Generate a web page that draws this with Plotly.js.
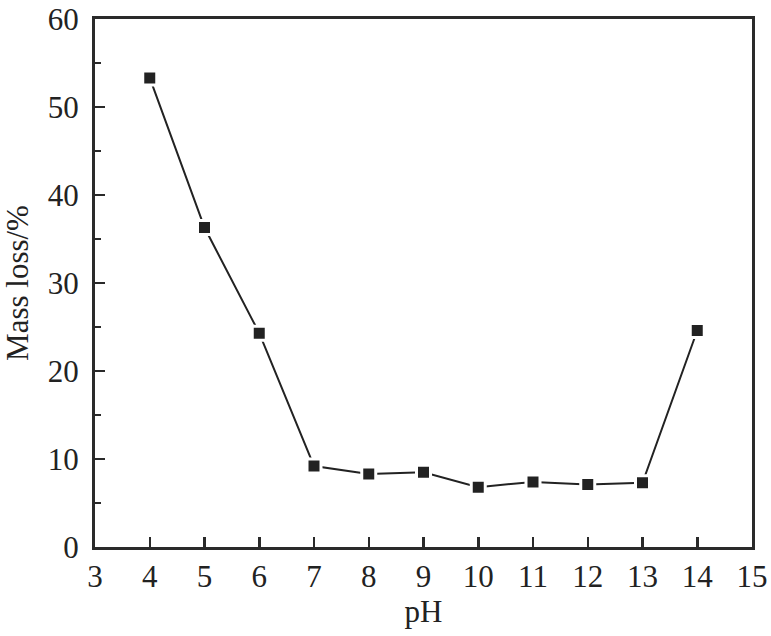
<!DOCTYPE html>
<html><head><meta charset="utf-8">
<script src="https://cdn.plot.ly/plotly-3.0.1.min.js"></script>
<style>body{margin:0;background:#fff}#chart{width:771px;height:636px}</style>
</head><body><div id="chart"></div>
<script>
const pH = [4, 5, 6, 7, 8, 9, 10, 11, 12, 13, 14];
const massLoss = [53.3, 36.3, 24.3, 9.2, 8.3, 8.5, 6.8, 7.4, 7.1, 7.3, 24.6];
const xTicks = [3, 4, 5, 6, 7, 8, 9, 10, 11, 12, 13, 14, 15];
const yTicks = [0, 10, 20, 30, 40, 50, 60];

const tickFont = {family: 'Liberation Serif, Times New Roman, serif', size: 31, color: '#222'};
const titleFont = {family: 'Liberation Serif, Times New Roman, serif', size: 31, color: '#222'};
const trace = {
  x: pH, y: massLoss, type: 'scatter', mode: 'lines+markers',
  line: {color: '#222', width: 2},
  marker: {symbol: 'square', size: 14, color: '#222', line: {color: '#fff', width: 3}},
  cliponaxis: false
};
const axisCommon = {
  showgrid: false, zeroline: false, showline: true, mirror: true,
  linecolor: '#2a2a2a', linewidth: 3, ticks: 'inside', ticklen: 10,
  tickwidth: 2.5, tickcolor: '#2a2a2a', tickfont: tickFont
};
const layout = {
  width: 771, height: 636,
  margin: {l: 95, r: 19, t: 19, b: 89},
  paper_bgcolor: '#fff', plot_bgcolor: '#fff',
  showlegend: false,
  xaxis: Object.assign({}, axisCommon, {
    range: [3, 15], tickmode: 'array', tickvals: xTicks, ticktext: xTicks.map(String),
    title: {text: 'pH', font: titleFont, standoff: 4}
  }),
  yaxis: Object.assign({}, axisCommon, {
    range: [0, 60], tickmode: 'array', tickvals: yTicks, ticktext: yTicks.map(String),
    ticklabelstandoff: 7,
    minor: {ticks: 'inside', ticklen: 6, tickwidth: 2.5, tickcolor: '#2a2a2a', dtick: 5, showgrid: false},
    title: {text: 'Mass loss/%', font: titleFont, standoff: 16}
  })
};
Plotly.newPlot('chart', [trace], layout, {displayModeBar: false, staticPlot: true});
</script></body></html>
